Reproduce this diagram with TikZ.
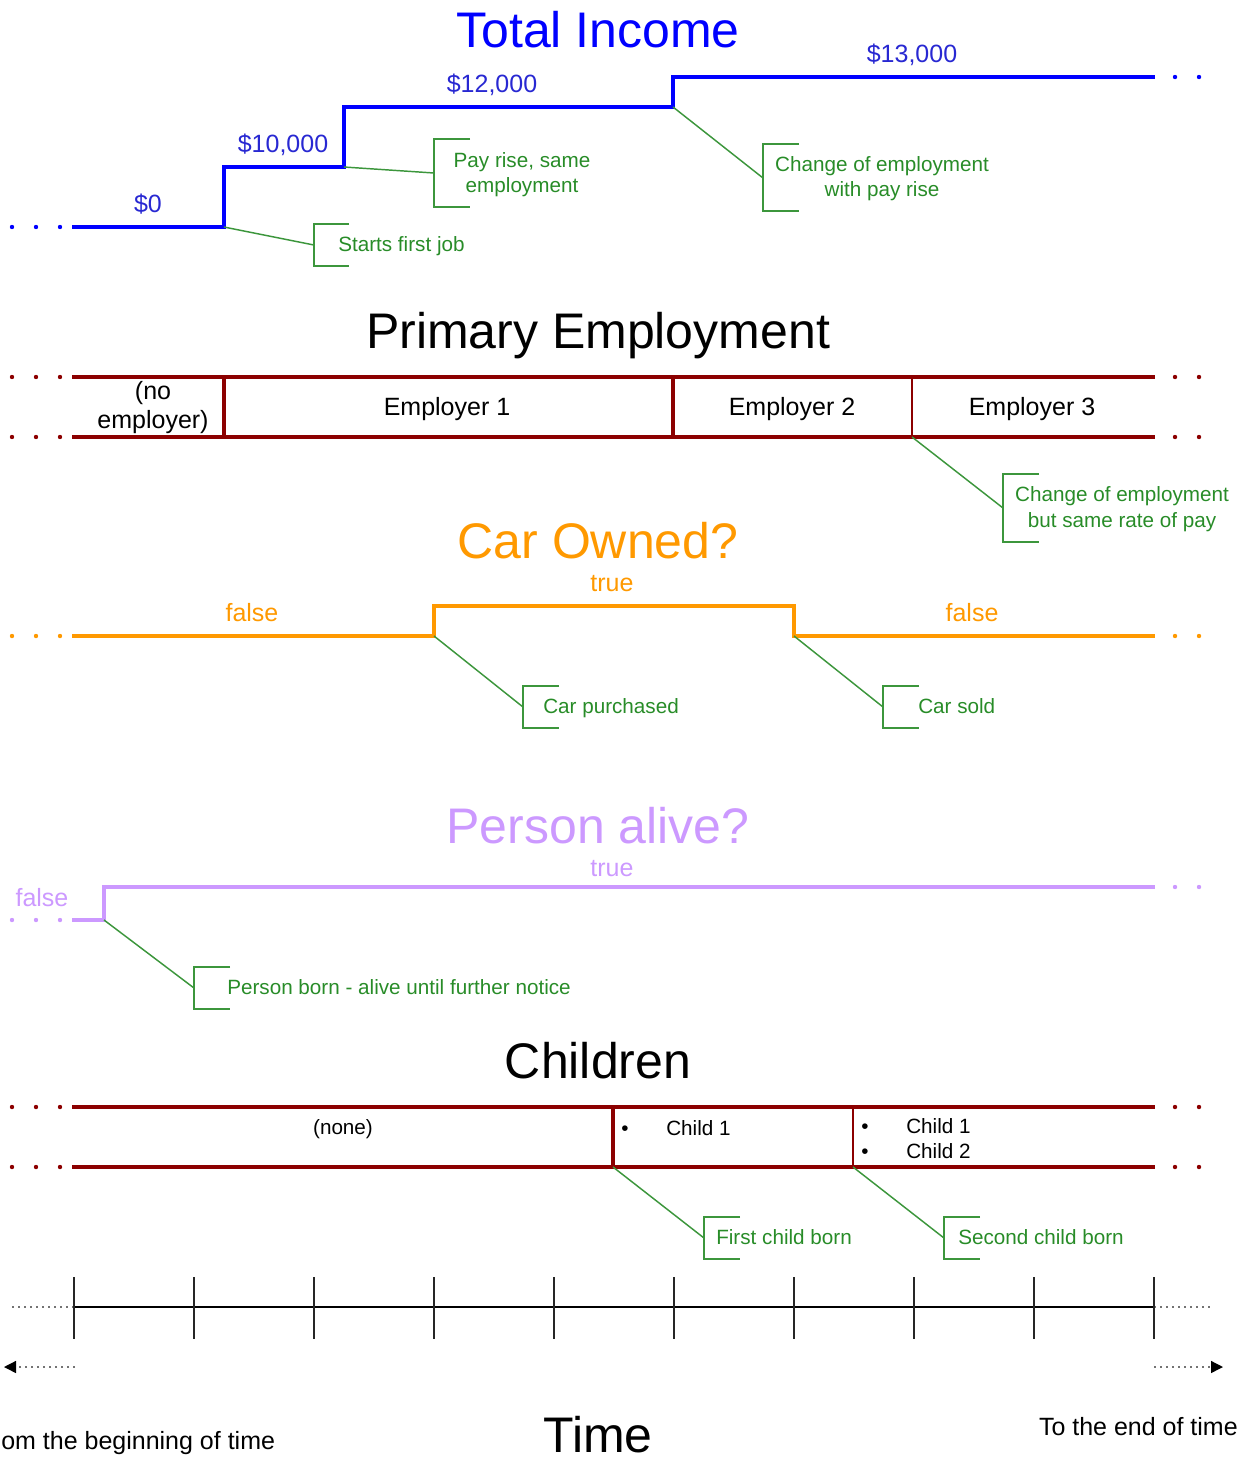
\documentclass[tikz,border=0pt]{standalone}
\usepackage{fontspec}
\setmainfont{Liberation Sans}
\usetikzlibrary{arrows.meta}
\definecolor{incblue}{RGB}{0,0,255}
\definecolor{valblue}{RGB}{40,40,210}
\definecolor{empred}{RGB}{140,0,0}
\definecolor{carorange}{RGB}{255,153,0}
\definecolor{alivepurple}{RGB}{204,153,255}
\definecolor{callgreen}{RGB}{60,150,60}
\definecolor{calltext}{RGB}{40,140,40}
\newcommand\fTitle{\fontsize{37.5}{40}\selectfont}
\newcommand\fVal{\fontsize{18.75}{22}\selectfont}
\newcommand\fCall{\fontsize{15.5}{18}\selectfont}
\tikzset{
  lbl/.style={inner sep=0pt, anchor=base},
  lblw/.style={inner sep=0pt, anchor=base west},
  title/.style={lbl, font=\fTitle},
  val/.style={lbl, font=\fVal},
  calltxt/.style={lbl, font=\fCall, text=calltext},
  calltxtw/.style={lblw, font=\fCall, text=calltext},
  callout/.style={draw=callgreen, line width=1.1pt},
  incline/.style={draw=incblue, line width=3.2pt, line join=miter},
  band/.style={draw=empred, line width=3pt},
  thickdiv/.style={draw=empred, line width=3pt},
  thindiv/.style={draw=empred, line width=1.6pt},
  carline/.style={draw=carorange, line width=3pt, line join=miter},
  aliveline/.style={draw=alivepurple, line width=3pt, line join=miter},
  axisline/.style={draw=black, line width=1.2pt},
  tickline/.style={draw=black!85, line width=1.2pt},
  dotline/.style={draw=black!55, line width=1pt, dash pattern=on 1.5pt off 3pt},
}
\begin{document}
\begin{tikzpicture}[x=0.75pt,y=-0.75pt]
\useasboundingbox (0,0) rectangle (1251,1460);
\clip (0,0) rectangle (1251,1460);

% ---------------- Total Income ----------------
\node[title, text=incblue] (tInc) at (598,47) {Total Income};
\foreach \x in {12,36,60} \fill[incblue] (\x,227) circle (2.2);
\foreach \x in {1175,1199} \fill[incblue] (\x,77) circle (2.2);
\coordinate (i0) at (72,227);
\coordinate (ev1) at (224,227);
\coordinate (ev2) at (344,167);
\coordinate (ev3) at (673,107);
\coordinate (i9) at (1155,77);
\draw[incline] (i0) -- (ev1) -- (224,167) -- (ev2) -- (344,107) -- (ev3) -- (673,77) -- (i9);
\node[val, text=valblue] (v0) at (148,212) {\$0};
\node[val, text=valblue] (v1) at (283,152) {\$10,000};
\node[val, text=valblue] (v2) at (492,92) {\$12,000};
\node[val, text=valblue] (v3) at (912,62) {\$13,000};

% callout A
\coordinate (cA) at (314,245);
\draw[callout] (ev1) -- (cA);
\draw[callout] (cA) ++(35,-21) -- ++(-35,0) -- ++(0,42) -- ++(35,0);
\node[calltxtw] (tA) at (338,251) {Starts first job};
% callout B
\coordinate (cB) at (434,173);
\draw[callout] (ev2) -- (cB);
\draw[callout] (cB) ++(36,-34) -- ++(-36,0) -- ++(0,68) -- ++(36,0);
\node[calltxt] (tB1) at (522,167) {Pay rise, same};
\node[calltxt] (tB2) at (522,192) {employment};
% callout C
\coordinate (cC) at (763,178);
\draw[callout] (ev3) -- (cC);
\draw[callout] (cC) ++(36,-34) -- ++(-36,0) -- ++(0,67) -- ++(36,0);
\node[calltxt] (tC1) at (882,171) {Change of employment};
\node[calltxt] (tC2) at (882,196) {with pay rise};

% ---------------- Primary Employment ----------------
\node[title] (tEmp) at (598,348) {Primary Employment};
\foreach \y in {377,437} {
  \foreach \x in {12,36,60} \fill[empred] (\x,\y) circle (2.2);
  \foreach \x in {1175,1199} \fill[empred] (\x,\y) circle (2.2);
}
\coordinate (eT0) at (72,377);
\coordinate (eT9) at (1155,377);
\coordinate (eB0) at (72,437);
\coordinate (eB9) at (1155,437);
\draw[band] (eT0) -- (eT9);
\draw[band] (eB0) -- (eB9);
\coordinate (ed1) at (224,437);
\coordinate (ed2) at (673,437);
\coordinate (ed3) at (912,437);
\draw[thickdiv] (224,377) -- (ed1);
\draw[thickdiv] (673,377) -- (ed2);
\draw[thindiv] (912,377) -- (ed3);
\node[val] (n0a) at (153,399) {(no};
\node[val] (n0b) at (153,428) {employer)};
\node[val] (n1) at (447,415) {Employer 1};
\node[val] (n2) at (792,415) {Employer 2};
\node[val] (n3) at (1032,415) {Employer 3};
% callout D
\coordinate (cD) at (1003,508);
\draw[callout] (ed3) -- (cD);
\draw[callout] (cD) ++(36,-34) -- ++(-36,0) -- ++(0,68) -- ++(36,0);
\node[calltxt] (tD1) at (1122,501) {Change of employment};
\node[calltxt] (tD2) at (1122,527) {but same rate of pay};

% ---------------- Car Owned? ----------------
\node[title, text=carorange] (tCar) at (598,558) {Car Owned?};
\foreach \x in {12,36,60} \fill[carorange] (\x,636) circle (2.2);
\foreach \x in {1175,1199} \fill[carorange] (\x,636) circle (2.2);
\coordinate (c0) at (72,636);
\coordinate (cev1) at (434,636);
\coordinate (cev2) at (794,636);
\coordinate (c9) at (1155,636);
\draw[carline] (c0) -- (cev1) -- (434,606) -- (794,606) -- (cev2) -- (c9);
\node[val, text=carorange] (cf1) at (252,621) {false};
\node[val, text=carorange] (ct1) at (612,591) {true};
\node[val, text=carorange] (cf2) at (972,621) {false};
% callout E
\coordinate (cE) at (523,707);
\draw[callout] (cev1) -- (cE);
\draw[callout] (cE) ++(36,-21) -- ++(-36,0) -- ++(0,42) -- ++(36,0);
\node[calltxtw] (tE) at (543,713) {Car purchased};
% callout F
\coordinate (cF) at (883,707);
\draw[callout] (cev2) -- (cF);
\draw[callout] (cF) ++(36,-21) -- ++(-36,0) -- ++(0,42) -- ++(36,0);
\node[calltxtw] (tF) at (918,713) {Car sold};

% ---------------- Person alive? ----------------
\node[title, text=alivepurple] (tAl) at (598,843) {Person alive?};
\foreach \x in {12,36,60} \fill[alivepurple] (\x,920) circle (2.2);
\foreach \x in {1175,1199} \fill[alivepurple] (\x,887) circle (2.2);
\coordinate (a0) at (72,920);
\coordinate (aev) at (104,920);
\coordinate (a9) at (1155,887);
\draw[aliveline] (a0) -- (aev) -- (104,887) -- (a9);
\node[val, text=alivepurple] (af) at (42,906) {false};
\node[val, text=alivepurple] (at) at (612,876) {true};
% callout G
\coordinate (cG) at (194,988);
\draw[callout] (aev) -- (cG);
\draw[callout] (cG) ++(36,-21) -- ++(-36,0) -- ++(0,42) -- ++(36,0);
\node[calltxtw] (tG) at (227,994) {Person born - alive until further notice};

% ---------------- Children ----------------
\node[title] (tCh) at (598,1078) {Children};
\foreach \y in {1107,1167} {
  \foreach \x in {12,36,60} \fill[empred] (\x,\y) circle (2.2);
  \foreach \x in {1175,1199} \fill[empred] (\x,\y) circle (2.2);
}
\coordinate (kT0) at (72,1107);
\coordinate (kT9) at (1155,1107);
\coordinate (kB0) at (72,1167);
\coordinate (kB9) at (1155,1167);
\draw[band] (kT0) -- (kT9);
\draw[band] (kB0) -- (kB9);
\coordinate (kd1) at (613,1167);
\coordinate (kd2) at (853,1167);
\draw[thickdiv] (613,1107) -- (kd1);
\draw[thindiv] (853,1107) -- (kd2);
\node[calltxt, text=black] (k0) at (343,1134) {(none)};
\node[calltxtw, text=black] (kb1) at (621,1135) {\textbullet};
\node[calltxtw, text=black] (k1) at (666,1135) {Child 1};
\node[calltxtw, text=black] (kb2) at (861,1133) {\textbullet};
\node[calltxtw, text=black] (k2) at (906,1133) {Child 1};
\node[calltxtw, text=black] (kb3) at (861,1158) {\textbullet};
\node[calltxtw, text=black] (k3) at (906,1158) {Child 2};
% callout H
\coordinate (cH) at (704,1238);
\draw[callout] (kd1) -- (cH);
\draw[callout] (cH) ++(36,-21) -- ++(-36,0) -- ++(0,42) -- ++(36,0);
\node[calltxtw] (tH) at (716,1244) {First child born};
% callout I
\coordinate (cI) at (944,1238);
\draw[callout] (kd2) -- (cI);
\draw[callout] (cI) ++(36,-21) -- ++(-36,0) -- ++(0,42) -- ++(36,0);
\node[calltxtw] (tI) at (958,1244) {Second child born};

% ---------------- Time axis ----------------
\coordinate (t0) at (74,1307);
\coordinate (t9) at (1154,1307);
\coordinate (tl) at (12,1307);
\coordinate (tr) at (1213,1307);
\draw[dotline] (tl) -- (t0);
\draw[dotline] (t9) -- (tr);
\draw[axisline] (t0) -- (t9);
\foreach \x in {74,194,...,1154} \draw[tickline] (\x,1277) -- (\x,1339);
\coordinate (al0) at (75,1367);
\coordinate (al1) at (4,1367);
\coordinate (ar0) at (1154,1367);
\coordinate (ar1) at (1223,1367);
\draw[dotline, -{Triangle[length=9pt,width=9pt,black]}] (al0) -- (al1);
\draw[dotline, -{Triangle[length=9pt,width=9pt,black]}] (ar0) -- (ar1);
\node[val, anchor=base west] (tBeg) at (1,1449) {om the beginning of time};
\node[title] (tTime) at (598,1452) {Time};
\node[val, anchor=base east] (tEnd) at (1238,1435) {To the end of time};
\end{tikzpicture}
\end{document}
